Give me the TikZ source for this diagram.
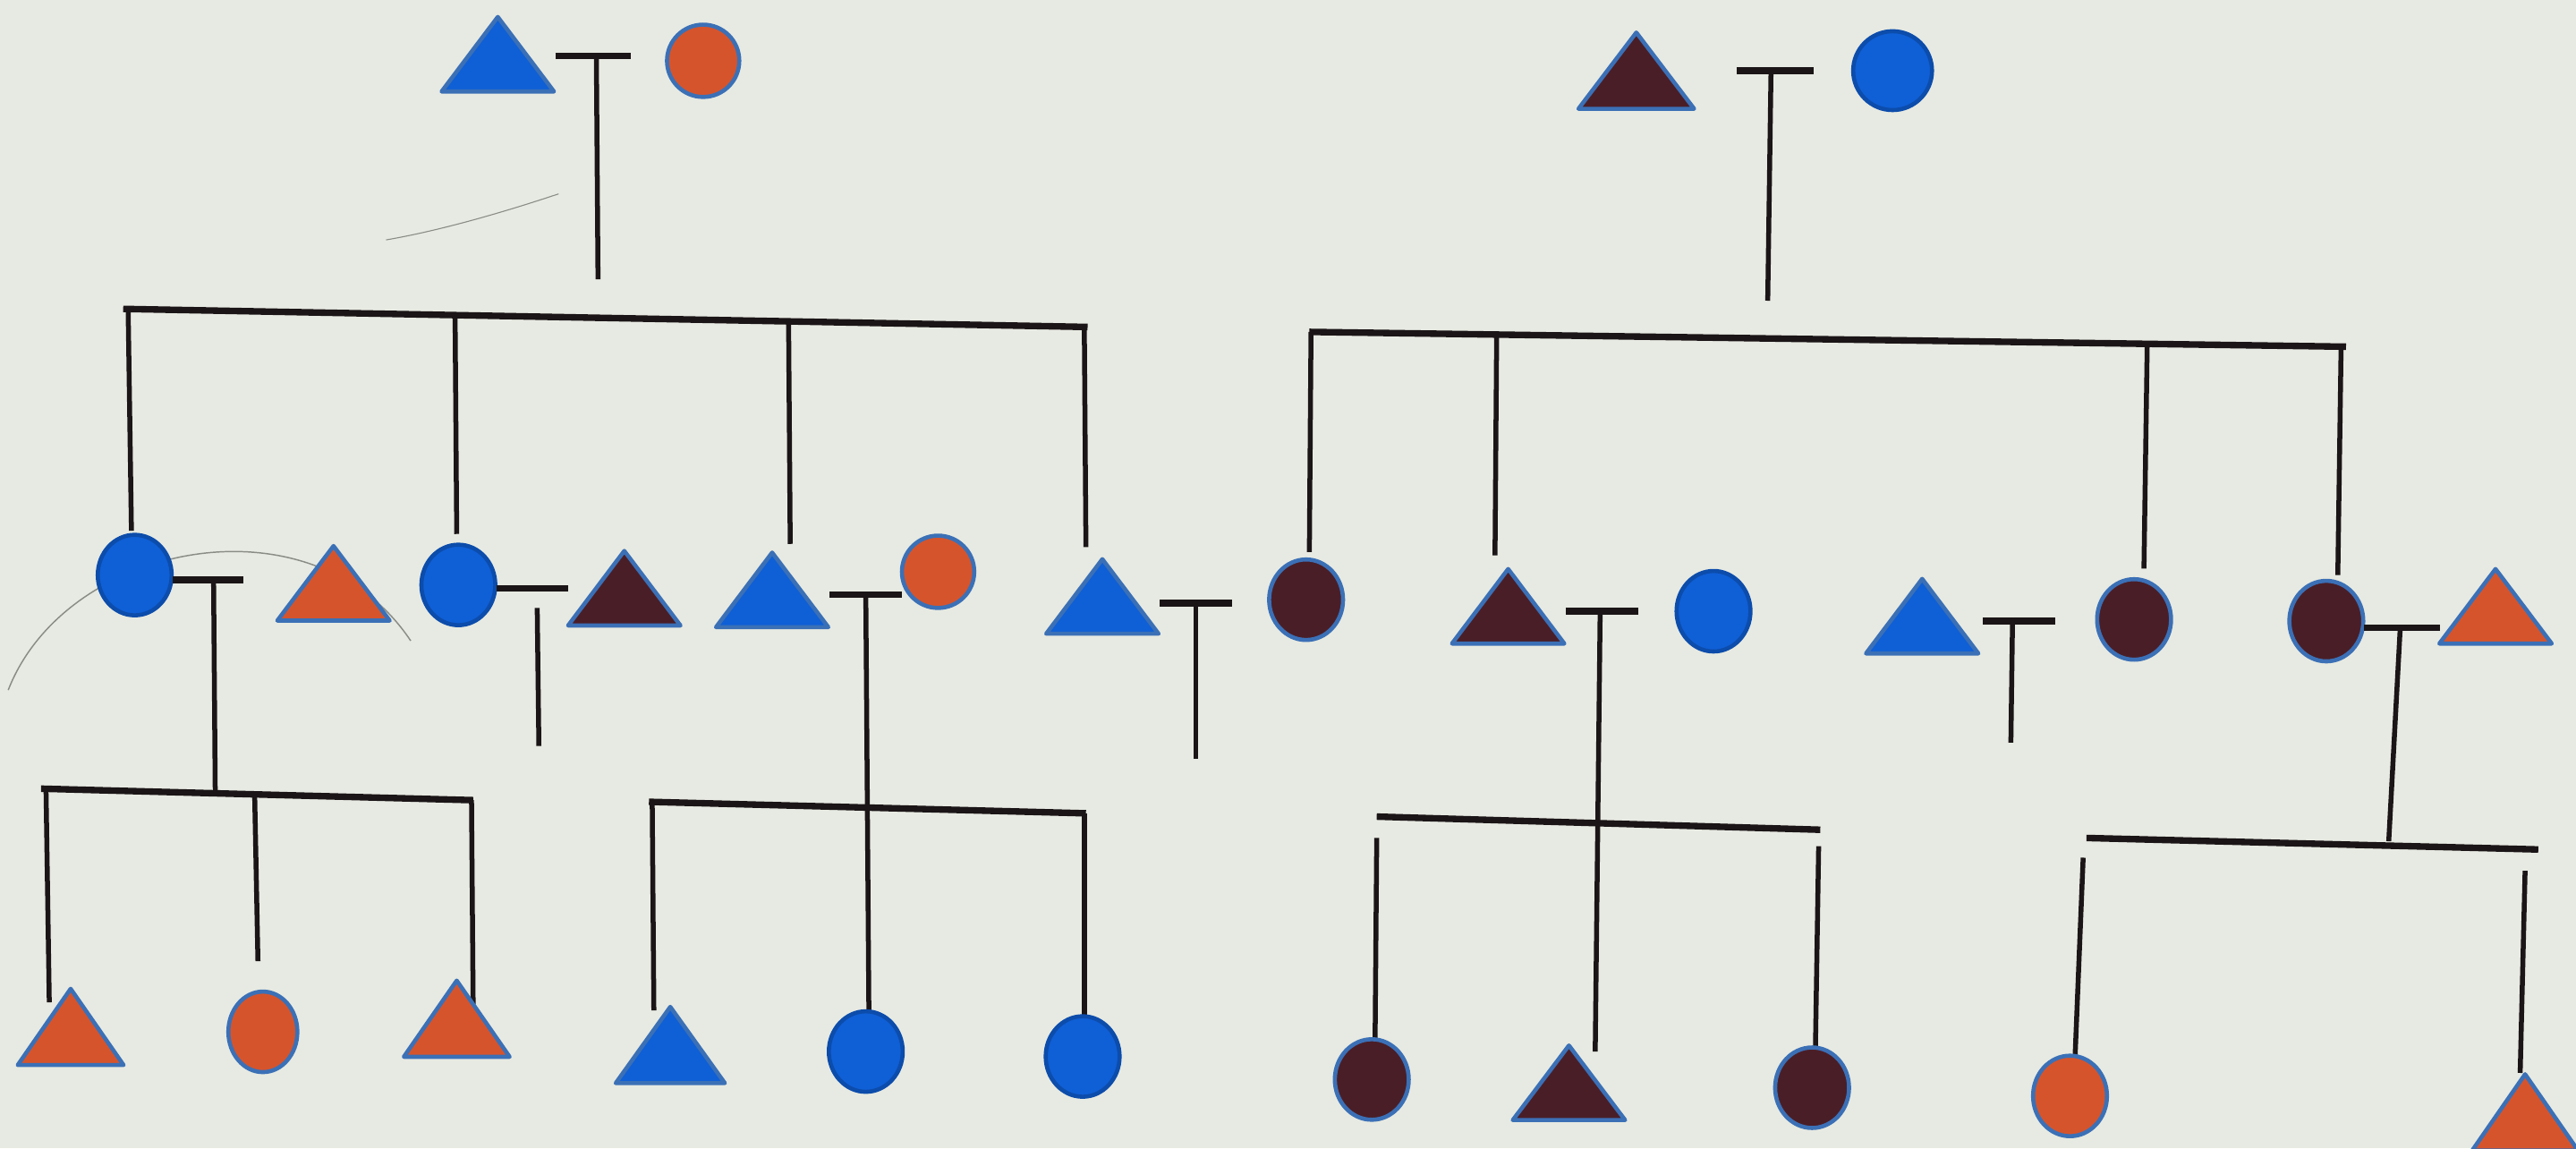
\documentclass[tikz,border=0pt]{standalone}
\usetikzlibrary{shapes.geometric}
\definecolor{bg}{HTML}{E7EAE2}
\definecolor{pblue}{HTML}{0F5FD6}
\definecolor{porange}{HTML}{D6542C}
\definecolor{pmaroon}{HTML}{4A1E27}
\definecolor{pedge}{HTML}{3B70B6}
\definecolor{pline}{HTML}{1B1517}
\definecolor{scratch}{HTML}{8A8C86}
\tikzset{
  circ/.style={ellipse, inner sep=0pt, minimum width=45pt, minimum height=49pt, draw=pedge, line width=2.5pt},
  tribox/.style={inner sep=0pt, minimum width=68pt, minimum height=45pt},
  barline/.style={draw=pline, line width=4pt},
  dropline/.style={draw=pline, line width=3pt},
}
\newcommand\pedtri[4]{%
  \node[tribox] (#1) at (#2,#3) {};
  \filldraw[fill=#4, draw=pedge, line width=2.5pt, line join=round]
    (#1.south west) -- (#1.south east) -- (#1.north) -- cycle;}
\begin{document}
\begin{tikzpicture}[x=1pt, y=-1pt]
\fill[bg] (0,0) rectangle (1568,699);
\useasboundingbox (0,0) rectangle (1568,699);
% faint scratches
\draw[scratch, line width=0.8pt] (5,420) .. controls (40,330) and (190,300) .. (250,390);
\draw[scratch, line width=0.6pt] (235,146) .. controls (270,140) and (310,128) .. (340,118);

% ---------- left family, generation 1 ----------
\pedtri{gA}{303}{33}{pblue}
\node[circ, fill=porange, minimum width=44pt, minimum height=44pt] (gB) at (428,37) {};
\coordinate (mA) at (363,34);
\draw[barline] (338,34) -- (384,34);
\draw[dropline] (mA) -- (364,170);

% sibship line left
\draw[barline] (75,188) -- (662,199);
\draw[dropline] (78,188) -- (80,323);
\draw[dropline] (277,192) -- (278,325);
\draw[dropline] (480,196) -- (481,331);
\draw[dropline] (660,198) -- (661,333);

% ---------- left generation 2 ----------
\node[circ, fill=pblue, draw=pblue!80!black] (c1) at (82,350) {};
\pedtri{t1}{203}{355}{porange}
\node[circ, fill=pblue, draw=pblue!80!black] (c2) at (279,356) {};
\pedtri{t2}{380}{358}{pmaroon}
\pedtri{t3}{470}{359}{pblue}
\node[circ, fill=porange, minimum width=44pt, minimum height=44pt] (c3) at (571,348) {};
\pedtri{t4}{671}{363}{pblue}
\node[circ, fill=pmaroon] (c4) at (795,365) {};

\draw[barline] (105,353) -- (148,353);
\draw[dropline] (130,353) -- (131,481);
\draw[barline] (302,358) -- (346,358);
\draw[dropline] (327,370) -- (328,454);
\draw[barline] (505,362) -- (549,362);
\draw[dropline] (527,362) -- (529,632);
\draw[barline] (706,367) -- (750,367);
\draw[dropline] (728,367) -- (728,462);

% ---------- right family, generation 1 ----------
\node[tribox, minimum width=70pt, minimum height=46pt] (gC) at (996,43) {};
\filldraw[fill=pmaroon, draw=pedge, line width=2.5pt, line join=round]
  (gC.south west) -- (gC.south east) -- (gC.north) -- cycle;
\node[circ, fill=pblue, draw=pblue!80!black, minimum width=48pt, minimum height=48pt] (gD) at (1152,43) {};
\coordinate (mB) at (1078,43);
\draw[barline] (1057,43) -- (1104,43);
\draw[dropline] (mB) -- (1076,183);

% sibship line right
\draw[barline] (797,202) -- (1428,211);
\draw[dropline] (798,202) -- (797,336);
\draw[dropline] (911,204) -- (910,338);
\draw[dropline] (1307,209) -- (1305,346);
\draw[dropline] (1425,211) -- (1423,350);

% ---------- right generation 2 ----------
\pedtri{t5}{918}{369}{pmaroon}
\node[circ, fill=pblue, draw=pblue!80!black] (c5) at (1043,372) {};
\pedtri{t6}{1170}{375}{pblue}
\node[circ, fill=pmaroon] (c6) at (1299,377) {};
\node[circ, fill=pmaroon] (c7) at (1416,378) {};
\pedtri{t7}{1519}{369}{porange}

\draw[barline] (953,372) -- (997,372);
\draw[dropline] (974,372) -- (971,640);
\draw[barline] (1207,378) -- (1251,378);
\draw[dropline] (1225,378) -- (1224,452);
\draw[barline] (1439,382) -- (1485,382);
\draw[dropline] (1461,382) -- (1454,512);

% ---------- generation 3, group 1 ----------
\draw[barline] (25,480) -- (288,487);
\draw[dropline] (28,480) -- (30,610);
\draw[dropline] (155,483) -- (157,585);
\draw[dropline] (287,487) -- (288,611);
\node[tribox, minimum width=64pt, minimum height=46pt] (k1) at (43,625) {};
\filldraw[fill=porange, draw=pedge, line width=2.5pt, line join=round] (k1.south west) -- (k1.south east) -- (k1.north) -- cycle;
\node[circ, fill=porange, minimum width=42pt] (k2) at (160,628) {};
\node[tribox, minimum width=64pt, minimum height=46pt] (k3) at (278,620) {};
\filldraw[fill=porange, draw=pedge, line width=2.5pt, line join=round] (k3.south west) -- (k3.south east) -- (k3.north) -- cycle;

% ---------- generation 3, group 2 ----------
\draw[barline] (395,488) -- (661,495);
\draw[dropline] (397,488) -- (398,615);
\draw[dropline] (660,495) -- (660,621);
\node[tribox, minimum width=66pt, minimum height=46pt] (k4) at (408,636) {};
\filldraw[fill=pblue, draw=pedge, line width=2.5pt, line join=round] (k4.south west) -- (k4.south east) -- (k4.north) -- cycle;
\node[circ, fill=pblue, draw=pblue!80!black] (k5) at (527,640) {};
\node[circ, fill=pblue, draw=pblue!80!black] (k6) at (659,643) {};

% ---------- generation 3, group 3 ----------
\draw[barline] (838,497) -- (1108,505);
\draw[dropline] (838,510) -- (837,634);
\draw[dropline] (1107,515) -- (1105,640);
\node[circ, fill=pmaroon] (k7) at (835,657) {};
\pedtri{k8}{955}{659}{pmaroon}
\node[circ, fill=pmaroon] (k9) at (1103,662) {};

% ---------- generation 3, group 4 ----------
\draw[barline] (1270,510) -- (1545,517);
\draw[dropline] (1268,522) -- (1263,645);
\draw[dropline] (1537,530) -- (1534,653);
\node[circ, fill=porange] (k10) at (1260,667) {};
\node[tribox, minimum width=64pt, minimum height=46pt] (k11) at (1537,677) {};
\filldraw[fill=porange, draw=pedge, line width=2.5pt, line join=round] (k11.south west) -- (k11.south east) -- (k11.north) -- cycle;
\end{tikzpicture}
\end{document}
